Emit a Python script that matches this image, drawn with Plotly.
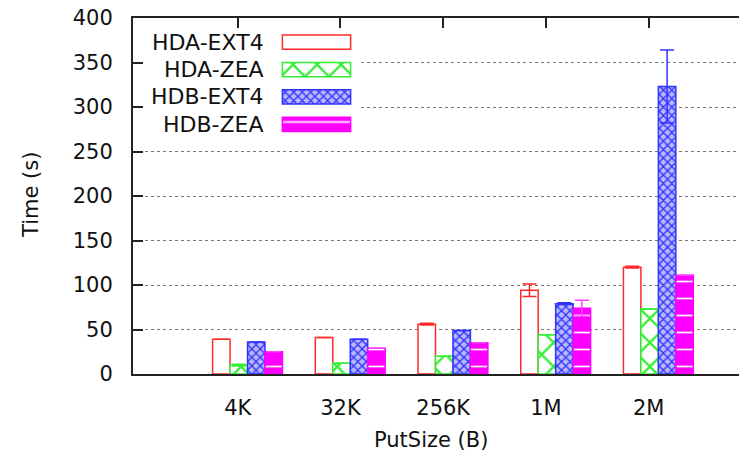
import plotly.graph_objects as go

# ---- data ----
categories = ["4K", "32K", "256K", "1M", "2M"]
series_names = ["HDA-EXT4", "HDA-ZEA", "HDB-EXT4", "HDB-ZEA"]
hda_ext4 = [39, 41, 56, 94, 120]
hda_zea = [10, 12, 20, 44, 73]
hdb_ext4 = [36, 39, 49, 79, 323]
hdb_zea = [25, 29, 35, 74, 111]
hda_ext4_err = [None, None, 1, 7, 1]
hda_zea_err = [1, None, None, None, None]
hdb_ext4_err = [None, None, None, 1, 41]
hdb_zea_err = [None, None, None, 9, None]
y_ticks = [0, 50, 100, 150, 200, 250, 300, 350, 400]

values = [hda_ext4, hda_zea, hdb_ext4, hdb_zea]
errors = [hda_ext4_err, hda_zea_err, hdb_ext4_err, hdb_zea_err]

FONT = "DejaVu Sans"
W, H = 739, 457
L, R, T, B = 133, 0, 18, 83
PW, PH = W - L - R, H - T - B

def px_x(p):
    return (p - L) / PW

def px_y(p):
    return (H - B - p) / PH

styles = [
    dict(color="white", line="#ff2a2a", pattern=dict(shape="", fgcolor="#ff2a2a", bgcolor="white"), err="#ff2a2a"),
    dict(color="white", line="#33ee33", pattern=dict(shape="x", fgcolor="#33ee33", bgcolor="white", size=17, solidity=0.25), err="#33ee33"),
    dict(color="white", line="#3333ff", pattern=dict(shape="x", fgcolor="#3333ff", bgcolor="#b8b8ff", size=6, solidity=0.4), err="#3333ff"),
    dict(color="#ff00ff", line="#ff00ff", pattern=dict(shape="-", fgcolor="white", bgcolor="#ff00ff", size=17, solidity=0.1), err="#ff44ff"),
]

bar_w = 0.17
offsets = [-0.245, -0.075, 0.095, 0.265]
xpos = list(range(len(categories)))

fig = go.Figure()
for name, vals, errs, st, off in zip(series_names, values, errors, styles, offsets):
    pat = dict(st["pattern"])
    pat["fillmode"] = "replace"
    fig.add_trace(go.Bar(
        x=xpos, y=vals, name=name, width=bar_w, offset=off,
        marker=dict(color=st["color"], line=dict(color=st["line"], width=1.5), pattern=pat),
        error_y=dict(type="data", array=errs, visible=True, color=st["err"], thickness=1.5, width=7),
        showlegend=False, xaxis="x", yaxis="y",
    ))

# legend samples on a helper axis
for i, (name, st) in enumerate(zip(series_names, styles)):
    pat = dict(st["pattern"])
    pat["fillmode"] = "replace"
    fig.add_trace(go.Bar(
        x=[1], y=[i], base=0, orientation="h", width=0.52,
        marker=dict(color=st["color"], line=dict(color=st["line"], width=1.5), pattern=pat),
        showlegend=False, xaxis="x2", yaxis="y2", hoverinfo="skip",
    ))

leg_x0, leg_x1 = px_x(281), px_x(352)
leg_ytop, leg_ybot = 28.5, 138
fig.update_layout(
    width=W, height=H,
    margin=dict(l=L, r=R, t=T, b=B),
    paper_bgcolor="white", plot_bgcolor="white",
    barmode="overlay",
    font=dict(family=FONT, size=21, color="#111"),
    xaxis=dict(
        range=[-1.02, 4.88], tickvals=xpos, ticktext=categories,
        showgrid=False, zeroline=False,
        showline=True, linecolor="#222", linewidth=2, mirror="ticks",
        ticks="inside", ticklen=10, tickcolor="#222", tickwidth=1.5,
        ticklabelstandoff=14, layer="below traces",
    ),
    yaxis=dict(
        range=[0, 400], tickvals=y_ticks,
        showgrid=True, gridcolor="#777", griddash="dot", gridwidth=1.2,
        zeroline=False, showline=True, linecolor="#222", linewidth=2,
        ticks="inside", ticklen=10, tickcolor="#222", tickwidth=1.5,
        ticklabelstandoff=14, layer="below traces",
    ),
    xaxis2=dict(domain=[leg_x0, leg_x1], range=[-0.02, 1.02], visible=False, anchor="y2"),
    yaxis2=dict(domain=[px_y(leg_ybot), px_y(leg_ytop)], range=[3.5, -0.5], visible=False, anchor="x2"),
    shapes=[dict(type="rect", xref="x", yref="y", x0=-1.02, x1=1.19, y0=268, y1=399,
                 fillcolor="white", line=dict(width=0), layer="between")],
)

row_h = (leg_ybot - leg_ytop) / 4
annotations = []
for i, name in enumerate(series_names):
    cy = leg_ytop + row_h * (i + 0.5)
    annotations.append(dict(text=name, xref="paper", yref="paper", x=px_x(266), y=px_y(cy),
                            xanchor="right", yanchor="middle", showarrow=False,
                            font=dict(family=FONT, size=22, color="#111")))
annotations.append(dict(text="Time (s)", xref="paper", yref="paper", x=px_x(31), y=px_y(195),
                        textangle=-90, xanchor="center", yanchor="middle", showarrow=False,
                        font=dict(family=FONT, size=21, color="#111")))
annotations.append(dict(text="PutSize (B)", xref="paper", yref="paper", x=px_x(431), y=px_y(440),
                        xanchor="center", yanchor="middle", showarrow=False,
                        font=dict(family=FONT, size=21, color="#111")))
fig.update_layout(annotations=annotations)

fig.write_html("out.html")
